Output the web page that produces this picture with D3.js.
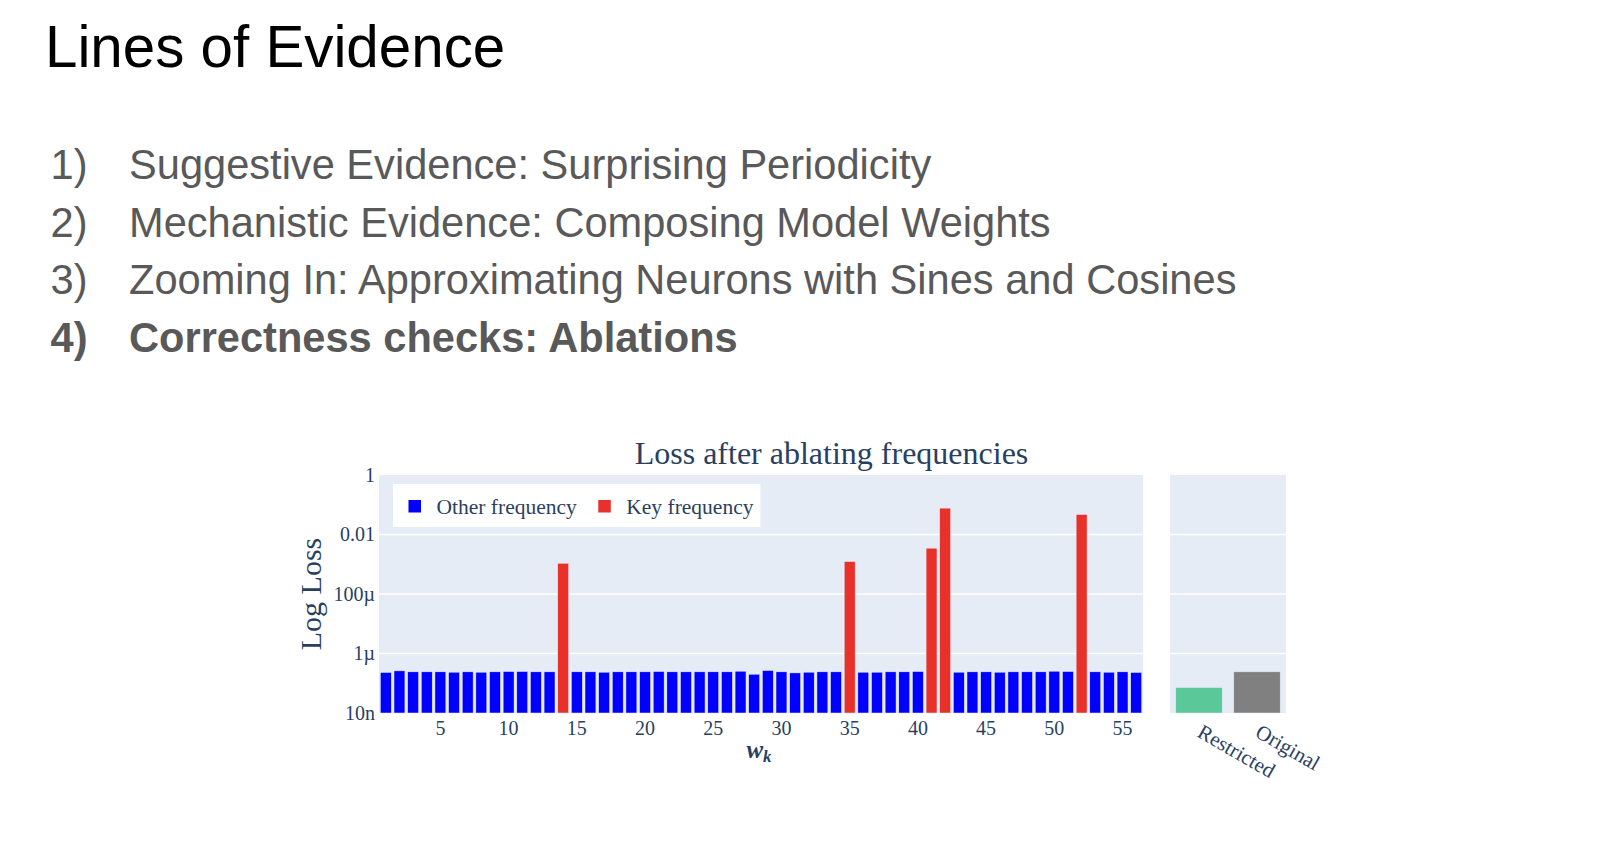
<!DOCTYPE html>
<html>
<head>
<meta charset="utf-8">
<script src="https://cdn.jsdelivr.net/npm/d3@7"></script>
<style>
  body { margin: 0; background: #fff; }
  svg { display: block; }
</style>
</head>
<body>
<svg id="slide" width="1600" height="846"></svg>
<script>
// slide text
var slideTitle = "Lines of Evidence"
var listNumbers = ["1)", "2)", "3)", "4)"]
var listItems = [
  "Suggestive Evidence: Surprising Periodicity",
  "Mechanistic Evidence: Composing Model Weights",
  "Zooming In: Approximating Neurons with Sines and Cosines",
  "Correctness checks: Ablations"
]
var boldItem = 3

// chart data
var chartTitle = "Loss after ablating frequencies"
var freqs = [1, 2, 3, 4, 5, 6, 7, 8, 9, 10, 11, 12, 13, 14, 15, 16, 17, 18, 19, 20,
  21, 22, 23, 24, 25, 26, 27, 28, 29, 30, 31, 32, 33, 34, 35, 36, 37, 38, 39, 40,
  41, 42, 43, 44, 45, 46, 47, 48, 49, 50, 51, 52, 53, 54, 55, 56]
var lossValues = [
  2.30e-7, 2.61e-7, 2.42e-7, 2.42e-7, 2.42e-7, 2.35e-7, 2.42e-7, 2.35e-7, 2.42e-7, 2.48e-7,
  2.48e-7, 2.42e-7, 2.42e-7, 1.08e-3, 2.42e-7, 2.42e-7, 2.35e-7, 2.42e-7, 2.42e-7, 2.42e-7,
  2.48e-7, 2.42e-7, 2.42e-7, 2.42e-7, 2.42e-7, 2.42e-7, 2.54e-7, 2.01e-7, 2.68e-7, 2.42e-7,
  2.23e-7, 2.35e-7, 2.42e-7, 2.42e-7, 1.23e-3, 2.35e-7, 2.35e-7, 2.42e-7, 2.42e-7, 2.48e-7,
  3.47e-3, 7.7e-2, 2.35e-7, 2.42e-7, 2.42e-7, 2.35e-7, 2.42e-7, 2.42e-7, 2.42e-7, 2.54e-7,
  2.48e-7, 4.7e-2, 2.42e-7, 2.35e-7, 2.42e-7, 2.30e-7
]
var keyFreqs = [14, 35, 41, 42, 52]
var xTickValues = [5, 10, 15, 20, 25, 30, 35, 40, 45, 50, 55]
var yTickValues = [1, 1e-2, 1e-4, 1e-6, 1e-8]
var yTickLabels = ["1", "0.01", "100µ", "1µ", "10n"]
var compareNames = ["Restricted", "Original"]
var compareValues = [7.2e-8, 2.42e-7]
var legendNames = ["Other frequency", "Key frequency"]

var sans = "'Liberation Sans', Arial, sans-serif"
var serif = "'Liberation Serif', 'Times New Roman', serif"
var ink = "#2a3f5f"
var plotBg = "#E5ECF6"
var blue = "#0000ff"
var red = "#e8312a"
var compareColors = ["#5bc89a", "#808080"]

var svg = d3.select("#slide")

// ---- slide header and list
svg.append("text")
  .attr("x", 45)
  .attr("y", 66.5)
  .style("font-family", sans)
  .style("font-size", "58.3px")
  .style("fill", "#000")
  .text(slideTitle)

var list = svg.append("g").attr("class", "list")
listItems.forEach(function(item, i) {
  var y = 179 + i * 57.6
  var weight = i == boldItem ? "bold" : "normal"
  list.append("text")
    .attr("x", 50.5).attr("y", y)
    .style("font-family", sans).style("font-size", "41.6px")
    .style("font-weight", weight).style("fill", "#595959")
    .text(listNumbers[i])
  list.append("text")
    .attr("x", 129).attr("y", y)
    .style("font-family", sans).style("font-size", "41.6px")
    .style("font-weight", weight).style("fill", "#595959")
    .text(item)
})

// ---- chart
var plotTop = 475, plotBottom = 713
var mainLeft = 379, mainRight = 1143
var sideLeft = 1170, sideRight = 1286

var x = d3.scaleBand().domain(freqs).range([mainLeft, mainRight])
  .paddingInner(0.2).paddingOuter(0.1)
var xSide = d3.scaleBand().domain(compareNames).range([sideLeft, sideRight])
  .paddingInner(0.2).paddingOuter(0.1)
var y = d3.scaleLog().domain([1e-8, 1]).range([plotBottom, plotTop])

var chart = svg.append("g").attr("class", "chart")

chart.append("rect")
  .attr("x", mainLeft).attr("y", plotTop)
  .attr("width", mainRight - mainLeft).attr("height", plotBottom - plotTop)
  .attr("fill", plotBg)
chart.append("rect")
  .attr("x", sideLeft).attr("y", plotTop)
  .attr("width", sideRight - sideLeft).attr("height", plotBottom - plotTop)
  .attr("fill", plotBg)

var gridVals = yTickValues.filter(function(d) { return d < 1 && d > 1e-8 })
;[[mainLeft, mainRight], [sideLeft, sideRight]].forEach(function(span) {
  chart.selectAll(null).data(gridVals).enter().append("line")
    .attr("x1", span[0]).attr("x2", span[1])
    .attr("y1", function(d) { return y(d) })
    .attr("y2", function(d) { return y(d) })
    .attr("stroke", "#fff").attr("stroke-width", 1.5)
})

var barData = freqs.map(function(f, i) {
  return { freq: f, value: lossValues[i], key: keyFreqs.indexOf(f) >= 0 }
})

chart.selectAll(".bar").data(barData).enter().append("rect")
  .attr("class", "bar")
  .attr("x", function(d) { return x(d.freq) })
  .attr("y", function(d) { return y(d.value) })
  .attr("width", x.bandwidth())
  .attr("height", function(d) { return plotBottom - y(d.value) })
  .attr("fill", function(d) { return d.key ? red : blue })
  .attr("stroke", plotBg).attr("stroke-width", 0.5)

chart.selectAll(".cmp").data(compareValues).enter().append("rect")
  .attr("class", "cmp")
  .attr("x", function(d, i) { return xSide(compareNames[i]) })
  .attr("y", function(d) { return y(d) })
  .attr("width", xSide.bandwidth())
  .attr("height", function(d) { return plotBottom - y(d) })
  .attr("fill", function(d, i) { return compareColors[i] })
  .attr("stroke", plotBg).attr("stroke-width", 0.5)

// axes
var yAxis = chart.append("g")
  .attr("transform", "translate(" + mainLeft + ",0)")
  .call(d3.axisLeft(y).tickValues(yTickValues)
    .tickFormat(function(d, i) { return yTickLabels[i] })
    .tickSize(0).tickPadding(4))
var xAxis = chart.append("g")
  .attr("transform", "translate(0," + plotBottom + ")")
  .call(d3.axisBottom(x).tickValues(xTickValues).tickSize(0).tickPadding(8))
;[yAxis, xAxis].forEach(function(ax) {
  ax.select(".domain").remove()
  ax.selectAll("text")
    .style("font-family", serif).style("font-size", "20px").style("fill", ink)
})

chart.selectAll(".cmp-label").data(compareNames).enter().append("text")
  .attr("class", "cmp-label")
  .attr("transform", function(d) {
    return "translate(" + (xSide(d) + xSide.bandwidth() / 2 - 3) + "," + (plotBottom + 23) + ") rotate(30)"
  })
  .style("font-family", serif).style("font-size", "21px").style("fill", ink)
  .text(function(d) { return d })

// titles
chart.append("text")
  .attr("x", (mainLeft + sideRight) / 2 - 1)
  .attr("y", 464)
  .attr("text-anchor", "middle")
  .style("font-family", serif).style("font-size", "32px").style("fill", ink)
  .text(chartTitle)

chart.append("text")
  .attr("transform", "translate(321," + (plotTop + plotBottom) / 2 + ") rotate(-90)")
  .attr("text-anchor", "middle")
  .style("font-family", serif).style("font-size", "30px").style("fill", ink)
  .text("Log Loss")

var xTitle = chart.append("text")
  .attr("x", (mainLeft + mainRight) / 2 - 2)
  .attr("y", 758)
  .attr("text-anchor", "middle")
  .style("font-family", serif).style("fill", ink)
  .style("font-weight", "bold").style("font-style", "italic")
xTitle.append("tspan").style("font-size", "25px").text("w")
xTitle.append("tspan").attr("dy", 4).style("font-size", "17px").text("k")

// legend
var legend = chart.append("g").attr("class", "legend")
var legendBox = legend.append("rect")
  .attr("x", 393).attr("y", 484).attr("height", 43).attr("fill", "#fff")
var cursorX = 408.5
legendNames.forEach(function(name, i) {
  legend.append("rect")
    .attr("x", cursorX).attr("y", 500)
    .attr("width", 12.5).attr("height", 12.5)
    .attr("fill", i == 0 ? blue : red)
  var t = legend.append("text")
    .attr("x", cursorX + 28).attr("y", 514)
    .style("font-family", serif).style("font-size", "21.5px").style("fill", ink)
    .text(name)
  cursorX = cursorX + 28 + t.node().getComputedTextLength() + 21.5
})
legendBox.attr("width", cursorX - 21.5 + 7 - 393)
</script>
</body>
</html>
